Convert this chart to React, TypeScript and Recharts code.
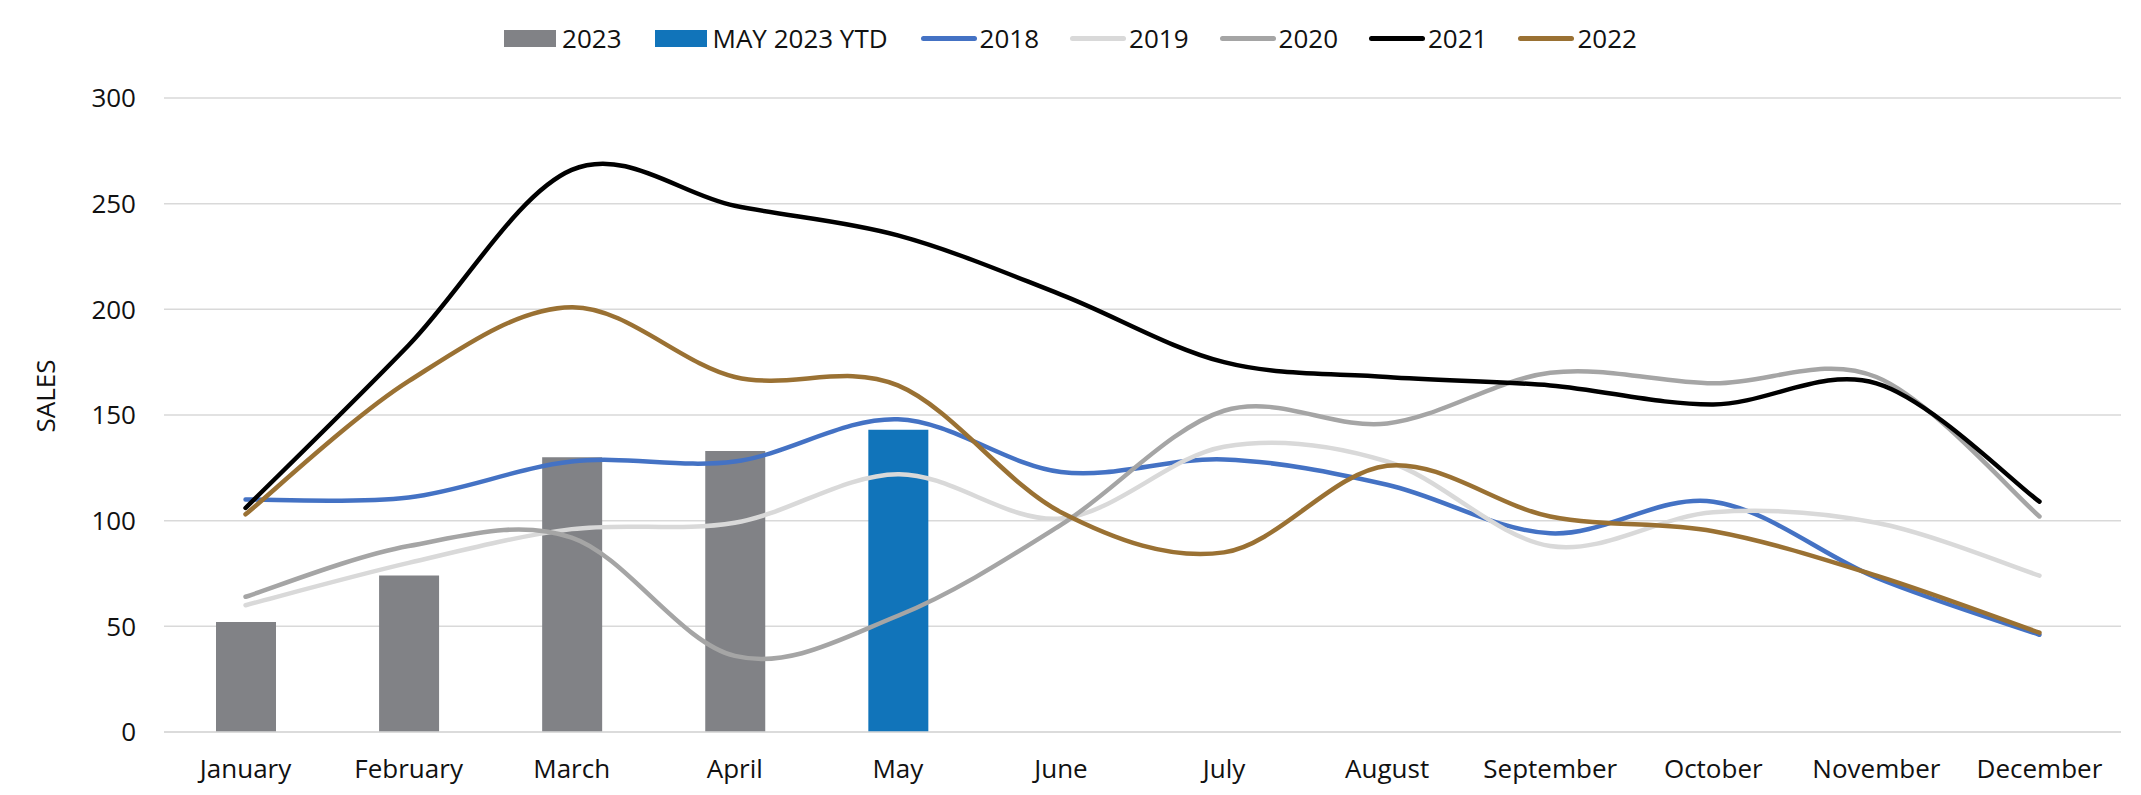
import React from 'react';
import { ComposedChart, Bar, Line, XAxis, YAxis, CartesianGrid, Legend } from 'recharts';

const months = ['January', 'February', 'March', 'April', 'May', 'June', 'July', 'August', 'September', 'October', 'November', 'December'];
const sales2023 = [52, 74, 130, 133, null, null, null, null, null, null, null, null];
const mayYtd = [null, null, null, null, 143, null, null, null, null, null, null, null];
const s2018 = [110, 111, 128, 128, 148, 123, 129, 117, 94, 109, 73, 46];
const s2019 = [60, 80, 96, 99, 122, 101, 135, 128, 88, 104, 99, 74];
const s2020 = [64, 88, 92, 36, 55, 98, 152, 146, 170, 165, 168, 102];
const s2021 = [106, 183, 266, 249, 235, 207, 175, 168, 164, 155, 165, 109];
const s2022 = [103, 166, 201, 168, 164, 104, 85, 126, 102, 95, 74, 47];
const yTicks = [0, 50, 100, 150, 200, 250, 300];

const barSeries = [
  { key: 'y2023', name: '2023', color: '#818286' },
  { key: 'ytd', name: 'MAY 2023 YTD', color: '#1174BA' },
];
const lineSeries = [
  { key: 'y2018', name: '2018', color: '#4472C4' },
  { key: 'y2019', name: '2019', color: '#D9D9D9' },
  { key: 'y2020', name: '2020', color: '#A5A5A5' },
  { key: 'y2021', name: '2021', color: '#000000' },
  { key: 'y2022', name: '2022', color: '#9A7133' },
];

const data = months.map((m, i) => ({
  month: m,
  y2023: sales2023[i],
  ytd: mayYtd[i],
  y2018: s2018[i],
  y2019: s2019[i],
  y2020: s2020[i],
  y2021: s2021[i],
  y2022: s2022[i],
}));

// Excel-like smoothed line (uniform Catmull-Rom as cubic Bezier)
const excelCurve = (context: any) => {
  let pts: number[][] = [];
  return {
    areaStart() {},
    areaEnd() {},
    lineStart() {
      pts = [];
    },
    lineEnd() {
      const n = pts.length;
      if (n === 0) return;
      context.moveTo(pts[0][0], pts[0][1]);
      if (n === 1) return;
      const t = 1 / 6;
      for (let i = 0; i < n - 1; i++) {
        const p0 = pts[Math.max(i - 1, 0)];
        const p1 = pts[i];
        const p2 = pts[i + 1];
        const p3 = pts[Math.min(i + 2, n - 1)];
        context.bezierCurveTo(
          p1[0] + (p2[0] - p0[0]) * t,
          p1[1] + (p2[1] - p0[1]) * t,
          p2[0] - (p3[0] - p1[0]) * t,
          p2[1] - (p3[1] - p1[1]) * t,
          p2[0],
          p2[1]
        );
      }
    },
    point(x: number, y: number) {
      pts.push([+x, +y]);
    },
  };
};

const FONT = '"Open Sans", "Noto Sans", sans-serif';

const renderLegend = () => (
  <div
    style={{
      height: 60,
      display: 'flex',
      alignItems: 'center',
      justifyContent: 'center',
      fontFamily: FONT,
      fontSize: 26,
      color: '#111',
    }}
  >
    {barSeries.map((s) => (
      <div key={s.key} style={{ display: 'flex', alignItems: 'center', marginRight: 33 }}>
        <div style={{ width: 52, height: 17, background: s.color, marginRight: 6 }} />
        <span>{s.name}</span>
      </div>
    ))}
    {lineSeries.map((s, i) => (
      <div key={s.key} style={{ display: 'flex', alignItems: 'center', marginRight: i === lineSeries.length - 1 ? 0 : 31 }}>
        <div style={{ width: 56, height: 5, borderRadius: 3, background: s.color, marginRight: 3 }} />
        <span>{s.name}</span>
      </div>
    ))}
  </div>
);

const SalesLabel = (props: any) => {
  const vb = props.viewBox || { x: 0, y: 90, width: 156, height: 634 };
  const cx = vb.x + 37;
  const cy = vb.y + vb.height / 2 - 19;
  return (
    <text
      x={cx}
      y={cy}
      transform={`rotate(-90 ${cx} ${cy})`}
      textAnchor="middle"
      dominantBaseline="central"
      fontFamily={FONT}
      fontSize={26}
      fill="#111"
    >
      SALES
    </text>
  );
};

export default function App() {
  return (
    <ComposedChart
      width={2125}
      height={779}
      data={data}
      margin={{ top: 30, right: 12, bottom: 5, left: 0 }}
      style={{ fontFamily: FONT }}
    >
      <Legend
        verticalAlign="top"
        align="center"
        content={renderLegend}
        wrapperStyle={{ top: 0, left: 0, width: 2125 }}
      />
      <CartesianGrid vertical={false} stroke="#D9D9D9" strokeWidth={1.5} />
      <XAxis
        dataKey="month"
        interval={0}
        tickSize={0}
        tickMargin={28}
        height={50}
        axisLine={{ stroke: '#D9D9D9', strokeWidth: 1.5 }}
        tickLine={false}
        tick={{ fontSize: 26, fill: '#111', fontFamily: FONT }}
      />
      <YAxis
        domain={[0, 300]}
        ticks={yTicks}
        width={156}
        tickSize={0}
        tickMargin={28}
        axisLine={false}
        tickLine={false}
        tick={{ fontSize: 26, fill: '#111', fontFamily: FONT }}
        label={<SalesLabel />}
      />
      {barSeries.map((s) => (
        <Bar key={s.key} dataKey={s.key} name={s.name} stackId="bars" fill={s.color} barSize={60} isAnimationActive={false} />
      ))}
      {lineSeries.map((s) => (
        <Line
          key={s.key}
          dataKey={s.key}
          name={s.name}
          type={excelCurve as any}
          stroke={s.color}
          strokeWidth={4.5}
          strokeLinecap="round"
          strokeLinejoin="round"
          dot={false}
          activeDot={false}
          isAnimationActive={false}
        />
      ))}
    </ComposedChart>
  );
}
